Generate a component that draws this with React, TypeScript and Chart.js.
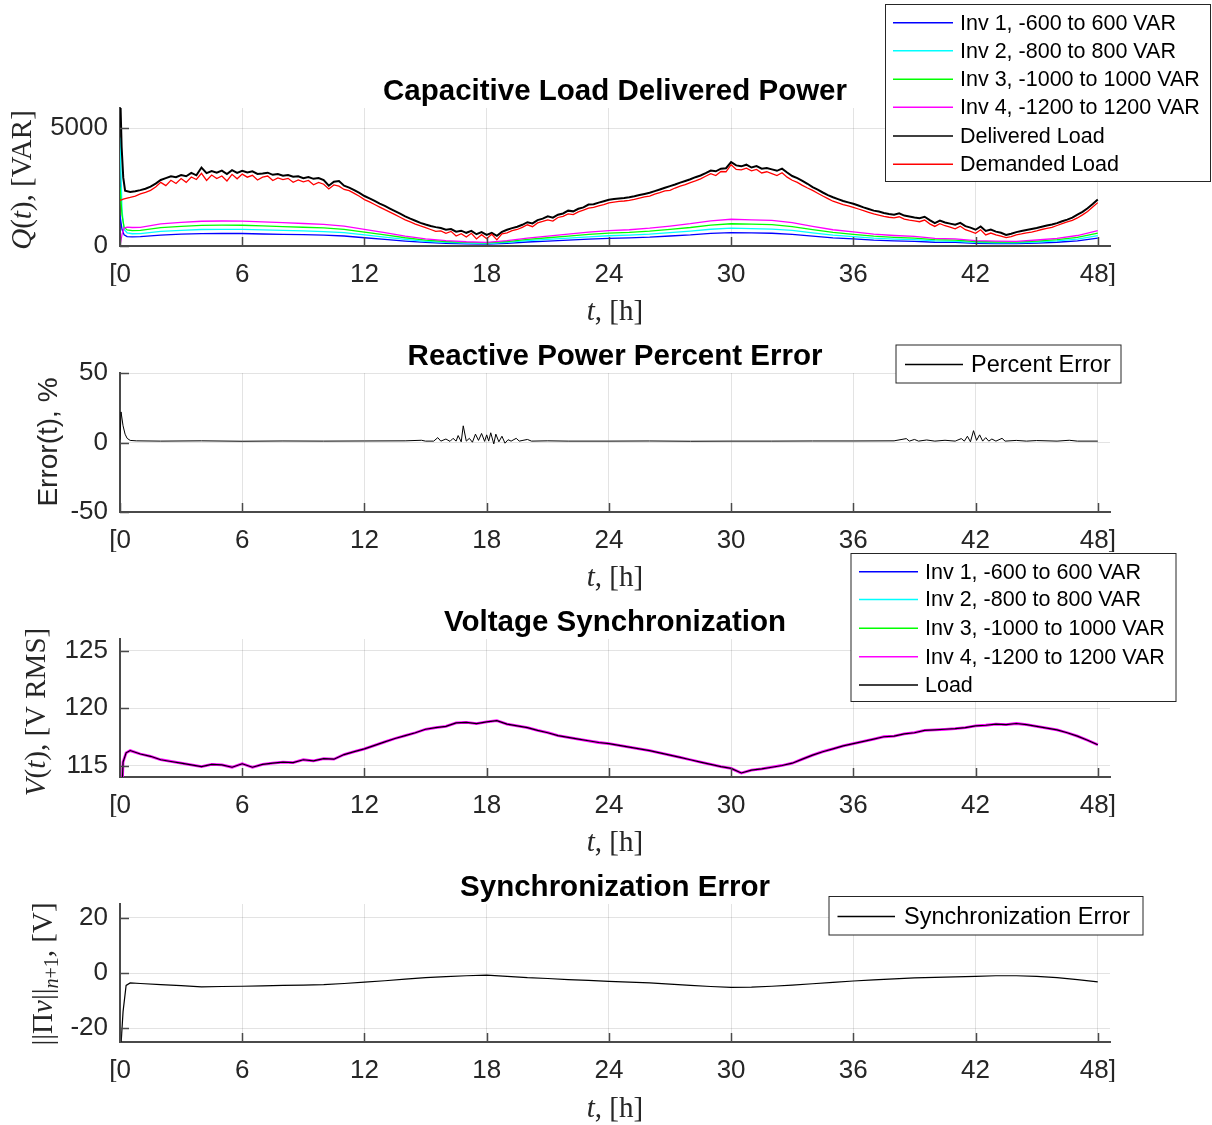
import React, { useEffect, useRef } from "react";
import { Chart, registerables } from "chart.js";
Chart.register(...registerables);

const W = 1212;
const H = 1125;
const PLOT_LEFT = 120;
const PLOT_RIGHT = 1110;
const X_MAX = 48.6;
const X_AXIS_H = 40;

const xTicks = [0, 6, 12, 18, 24, 30, 36, 42, 48];
const xTickLabel = (v: number) => (v === 0 ? "[0" : v === 48 ? "48]" : String(v));

// ---------------- Panel 1: Capacitive load delivered power ----------------
const loadStartT = [0, 0.08, 0.16, 0.25];
const loadGridStart = 0.5;
const loadGridStep = 0.25;

const deliveredLoad = [
  6800, 4200, 2900, 2350,
  2290, 2320,
  2370, 2430, 2520, 2650,
  2800, 2880, 2960, 2920,
  3010, 2960, 3100, 3000,
  3330, 3090, 3180, 3110,
  3200, 3050, 3220, 3100,
  3190, 3120, 3170, 3060,
  3080, 3110, 3020, 3050,
  2980, 3010, 2940, 2960,
  2880, 2930, 2850, 2880,
  2800, 2560, 2730, 2760,
  2560, 2480, 2370, 2250,
  2120, 2020, 1910, 1800,
  1700, 1590, 1480, 1370,
  1260, 1160, 1070, 980,
  910, 850, 800, 760,
  690, 720, 610, 650,
  560, 640, 500, 590,
  470, 560, 430, 600,
  690, 760, 820, 900,
  1010, 960, 1100, 1160,
  1260, 1200, 1330, 1380,
  1500, 1470, 1580, 1640,
  1760, 1770, 1840, 1900,
  1960, 1990, 2020, 2040,
  2070, 2110, 2160, 2210,
  2260, 2330, 2400, 2470,
  2540, 2610, 2690, 2760,
  2830, 2920, 2990, 3090,
  3200, 3170, 3280, 3300,
  3560, 3420, 3380, 3450,
  3330, 3390, 3280, 3310,
  3250, 3190, 3280, 3120,
  2970, 2880, 2760, 2640,
  2500, 2390, 2270, 2160,
  2070, 1990, 1910, 1850,
  1790, 1720, 1640, 1570,
  1500, 1460, 1400, 1360,
  1330, 1390, 1290, 1250,
  1210, 1180, 1240, 1100,
  970, 1080, 1000, 950,
  900, 980, 840, 780,
  690, 830, 640, 700,
  610, 560, 470, 520,
  590, 640, 680, 720,
  760, 820, 870, 910,
  970, 1050, 1120, 1200,
  1330, 1450, 1600, 1780,
  1970,
];

const demandedLoad = [
  1940, 1960, 1990, 2010,
  2060, 2120,
  2210, 2280, 2360, 2500,
  2700, 2560, 2790, 2650,
  2860, 2700, 2930, 2820,
  3080, 2780, 3010, 2860,
  2970, 2760, 3040, 2850,
  3050, 2920, 3000, 2800,
  2920, 2970, 2780, 2890,
  2820, 2870, 2700, 2800,
  2720, 2780, 2600, 2700,
  2620, 2420, 2590, 2540,
  2400, 2350, 2230, 2110,
  1970, 1870, 1760, 1650,
  1540, 1440, 1330, 1220,
  1110, 1020, 930, 850,
  780, 700, 620, 640,
  540, 620, 420, 520,
  380, 540, 300, 480,
  310, 500, 260, 520,
  560, 650, 700, 790,
  900, 820, 980, 1040,
  1110, 1060, 1210, 1260,
  1360, 1330, 1450, 1520,
  1610, 1640, 1700, 1760,
  1830, 1860, 1890, 1910,
  1940, 1980, 2030, 2080,
  2120, 2200, 2260, 2340,
  2360, 2460, 2540, 2600,
  2690, 2760, 2850, 2960,
  3070, 2990, 3160, 3150,
  3450, 3250, 3230, 3300,
  3190, 3250, 3100, 3150,
  3070, 2990, 3110, 2920,
  2790, 2700, 2570, 2460,
  2360, 2240, 2120, 2010,
  1900, 1830, 1760, 1700,
  1640, 1570, 1500, 1430,
  1360, 1310, 1260, 1220,
  1190, 1240, 1140, 1100,
  1070, 1030, 1100, 940,
  830, 950, 860, 800,
  730, 840, 690, 620,
  540, 690, 470, 550,
  470, 420, 360, 400,
  470, 510, 560, 590,
  640, 700, 750, 790,
  870, 950, 1020, 1090,
  1190, 1320, 1460, 1650,
  1840,
];

const invT = [0, 0.1, 0.2, 0.35, 0.6, 1, 2, 3, 4, 5, 6, 7, 8, 9, 10, 11, 12, 13, 14, 15, 16, 17, 18, 19, 20, 21, 22, 23, 24, 25, 26, 27, 28, 29, 30, 31, 32, 33, 34, 35, 36, 37, 38, 39, 40, 41, 42, 43, 44, 45, 46, 47, 48];

const inv1Q = [1300, 700, 480, 400, 390,
  395, 465, 500, 525, 530, 530, 510, 495, 480, 460,
  425, 350, 280, 210, 150, 115, 90, 80, 115, 170,
  210, 250, 295, 325, 345, 375, 425, 470, 535, 565,
  555, 540, 495, 415, 345, 300, 250, 220, 200, 160,
  150, 115, 100, 100, 125, 160, 220, 330];
const inv2Q = [4600, 1500, 700, 560, 520,
  525, 620, 665, 700, 705, 705, 680, 660, 640, 610,
  565, 470, 375, 280, 200, 155, 120, 105, 155, 225,
  280, 335, 390, 435, 460, 500, 565, 630, 710, 755,
  740, 720, 660, 555, 460, 400, 335, 295, 270, 215,
  200, 155, 135, 130, 170, 215, 295, 440];
const inv3Q = [2500, 1300, 800, 680, 650,
  660, 780, 835, 875, 885, 880, 850, 825, 795, 765,
  705, 585, 470, 350, 250, 190, 150, 130, 190, 280,
  350, 415, 490, 545, 575, 630, 705, 785, 890, 945,
  925, 905, 825, 695, 575, 495, 415, 370, 335, 270,
  250, 190, 170, 165, 210, 270, 370, 545];
const inv4Q = [0, 500, 760, 800, 785,
  790, 935, 1000, 1050, 1060, 1055, 1020, 990, 955, 915,
  845, 705, 565, 420, 300, 230, 180, 155, 230, 335,
  420, 500, 585, 655, 690, 755, 845, 945, 1065, 1135,
  1110, 1085, 990, 835, 690, 595, 500, 445, 405, 325,
  300, 230, 205, 195, 255, 325, 445, 655];

// ---------------- Panel 2: percent error ----------------
const errT = [0, 0.05, 0.15, 0.25, 0.35, 0.5, 0.8, 2, 4, 6, 8, 10, 12, 14, 14.8, 15, 15.4, 15.6, 15.75,
  16, 16.2, 16.35, 16.5, 16.6, 16.75, 16.85, 17, 17.15, 17.3, 17.45, 17.6, 17.75, 17.9,
  18, 18.1, 18.2, 18.35, 18.45, 18.6, 18.75, 18.9, 19.05, 19.2, 19.45, 19.6,
  20, 20.2, 21, 22, 24, 26, 28, 30, 32, 34, 36, 38, 38.6, 38.75, 39, 39.2, 39.6,
  40, 40.5, 41, 41.3, 41.45, 41.6, 41.75, 41.9, 42.05, 42.2, 42.35, 42.5, 42.65, 42.8,
  43, 43.3, 43.45, 44, 44.5, 45, 46, 46.6, 47, 48];
const percentError = [2, 22, 12, 6, 3, 1.5, 1.2, 1.0, 1.2, 0.9, 1.1, 1.0, 1.1, 1.2, 1.6, 1.0, 1.0, 3.5, 1.0,
  2.5, 0.8, 3, 1.0, 5, 0.5, 12, 1, 3, 0.2, 6, 1.5, 6.5, 0.8,
  5.5, 1.0, 7, -1, 6, 0.5, 4.5, -0.5, 2, 1.0, 3.0, 1.0,
  2.2, 1.0, 1.2, 1.0, 1.0, 1.1, 0.9, 1.0, 1.0, 1.1, 1.1, 1.2, 2.8, 1.0, 2.2, 1.0, 1.8,
  1.0, 1.6, 1.0, 2.8, 1.0, 4.5, 0.5, 8.5, 1.5, 5.5, 1.0, 3.5, 1.0, 2.5,
  1.0, 3.0, 1.0, 1.5, 1.0, 1.4, 1.0, 1.6, 1.0, 1.0];

// ---------------- Panel 3: voltage synchronization ----------------
const voltStartT = [0, 0.15, 0.3];
const voltGridStart = 0.5;
const voltGridStep = 0.5;
const busVoltage = [108, 115.3, 116.1,
  116.3, 116.0, 115.8, 115.5, 115.35, 115.2, 115.05, 114.9, 115.1, 115.05, 114.85,
  115.15, 114.85, 115.1, 115.2, 115.3, 115.25, 115.5, 115.4, 115.6, 115.55,
  115.95, 116.2, 116.45, 116.75, 117.05, 117.35, 117.6, 117.85, 118.15, 118.3,
  118.4, 118.7, 118.75, 118.65, 118.8, 118.9, 118.6, 118.45, 118.3, 118.05,
  117.85, 117.6, 117.45, 117.3, 117.15, 117.0, 116.9, 116.75, 116.6, 116.45,
  116.3, 116.1, 115.9, 115.7, 115.5, 115.3, 115.1, 114.9, 114.75, 114.35,
  114.6, 114.7, 114.85, 115.0, 115.2, 115.55, 115.9, 116.2, 116.45, 116.7,
  116.9, 117.1, 117.3, 117.5, 117.55, 117.75, 117.85, 118.05, 118.1, 118.15,
  118.2, 118.3, 118.45, 118.5, 118.6, 118.55, 118.65, 118.55, 118.4, 118.25,
  118.1, 117.85, 117.55, 117.2, 116.8];

// ---------------- Panel 4: synchronization error ----------------
const syncT = [0, 0.15, 0.3, 0.5, 1, 2, 3, 4, 5, 6, 7, 8, 9, 10, 11, 12, 13, 14, 15, 16, 17, 18, 19, 20, 21, 22, 23, 24, 25, 26, 27, 28, 29, 30, 31, 32, 33, 34, 35, 36, 37, 38, 39, 40, 41, 42, 43, 44, 45, 46, 47, 48];
const syncError = [-32, -14, -4.5, -3.6,
  -3.8, -4.2, -4.6, -5.0, -4.9, -4.8, -4.7, -4.5, -4.4, -4.2,
  -3.8, -3.3, -2.8, -2.2, -1.7, -1.3, -1.0, -0.8, -1.2, -1.7,
  -2.0, -2.4, -2.7, -3.0, -3.3, -3.6, -4.0, -4.5, -4.9, -5.2,
  -5.1, -4.8, -4.4, -3.9, -3.4, -2.9, -2.5, -2.1, -1.8, -1.6,
  -1.4, -1.2, -1.0, -1.0, -1.2, -1.7, -2.4, -3.2];

// ---------------- helpers ----------------
function timeAxis(start: number[], gridStart: number, step: number, total: number) {
  const out = [...start];
  let k = 0;
  while (out.length < total) {
    out.push(Math.round((gridStart + k * step) * 1000) / 1000);
    k++;
  }
  return out;
}
function pts(t: number[], v: number[]) {
  return v.map((y, i) => ({ x: t[i], y }));
}

const loadT = timeAxis(loadStartT, loadGridStart, loadGridStep, deliveredLoad.length);
const voltT = timeAxis(voltStartT, voltGridStart, voltGridStep, busVoltage.length);

const AXIS = "#4a4a4a";
const TEXT = "#262626";
const GRID = "rgba(0,0,0,0.11)";
const SANS = '"Liberation Sans", Arial, Helvetica, sans-serif';
const SERIF = '"Liberation Serif", "Times New Roman", serif';
const FS = 29;

type Seg = { t: string; f: string; dy?: number };
const up = (t: string, size = FS, dy = 0): Seg => ({ t, f: `${size}px ${SERIF}`, dy });
const it = (t: string, size = FS, dy = 0): Seg => ({ t, f: `italic ${size}px ${SERIF}`, dy });

function drawRich(ctx: CanvasRenderingContext2D, segs: Seg[], cx: number, y: number) {
  const widths = segs.map((s) => {
    ctx.font = s.f;
    return ctx.measureText(s.t).width;
  });
  const total = widths.reduce((a, b) => a + b, 0);
  let x = cx - total / 2;
  ctx.textAlign = "left";
  ctx.textBaseline = "alphabetic";
  segs.forEach((s, i) => {
    ctx.font = s.f;
    ctx.fillText(s.t, x, y + (s.dy || 0));
    x += widths[i];
  });
}

type Legend = { x: number; y: number; w: number; h: number; rows: number[]; l0: number; l1: number; tx: number; fs: number };
type Panel = {
  top: number;
  bottom: number;
  yMin: number;
  yMax: number;
  yTicks: number[];
  datasets: any[];
  title: string;
  titleY: number;
  xLabelY: number;
  yLabel: Seg[];
  yLabelX: number;
  yLabelCY: number;
  legend: Legend;
};

const xLabel = [it("t"), up(", [h]")];

function ds(label: string, t: number[], v: number[], color: string, width: number) {
  return { label, data: pts(t, v), borderColor: color, backgroundColor: color, borderWidth: width, pointRadius: 0, tension: 0, fill: false };
}

const panels: Panel[] = [
  {
    top: 108, bottom: 246, yMin: 0, yMax: 5855, yTicks: [0, 5000],
    datasets: [
      ds("Inv 1, -600 to 600 VAR", invT, inv1Q, "#0000ff", 1.3),
      ds("Inv 2, -800 to 800 VAR", invT, inv2Q, "#00ffff", 1.3),
      ds("Inv 3, -1000 to 1000 VAR", invT, inv3Q, "#00ff00", 1.3),
      ds("Inv 4, -1200 to 1200 VAR", invT, inv4Q, "#ff00ff", 1.3),
      ds("Delivered Load", loadT, deliveredLoad, "#000000", 2),
      ds("Demanded Load", loadT, demandedLoad, "#ff0000", 1.3),
    ],
    title: "Capacitive Load Delivered Power", titleY: 100, xLabelY: 320,
    yLabel: [it("Q"), up("("), it("t"), up("), [VAR]")], yLabelX: 31, yLabelCY: 180,
    legend: { x: 885.5, y: 4.5, w: 325, h: 177, rows: [22.7, 50.7, 79.3, 107.3, 136, 164.3], l0: 893, l1: 953, tx: 960, fs: 21.5 },
  },
  {
    top: 373, bottom: 512, yMin: -50, yMax: 50, yTicks: [-50, 0, 50],
    datasets: [ds("Percent Error", errT, percentError, "#000000", 1)],
    title: "Reactive Power Percent Error", titleY: 365, xLabelY: 585.5,
    yLabel: [{ t: "Error(t), %", f: `28px ${SANS}` }], yLabelX: 57, yLabelCY: 442,
    legend: { x: 896, y: 345, w: 225, h: 38, rows: [364.5], l0: 905, l1: 963, tx: 971, fs: 23.5 },
  },
  {
    top: 639, bottom: 777, yMin: 114, yMax: 126, yTicks: [115, 120, 125],
    datasets: [
      ds("Inv 1, -600 to 600 VAR", voltT, busVoltage, "#0000ff", 1.2),
      ds("Inv 2, -800 to 800 VAR", voltT, busVoltage, "#00ffff", 1.2),
      ds("Inv 3, -1000 to 1000 VAR", voltT, busVoltage, "#00ff00", 1.2),
      ds("Inv 4, -1200 to 1200 VAR", voltT, busVoltage, "#ff00ff", 2.8),
      ds("Load", voltT, busVoltage, "#000000", 1.2),
    ],
    title: "Voltage Synchronization", titleY: 630.5, xLabelY: 851,
    yLabel: [it("V"), up("("), it("t"), up("), [V RMS]")], yLabelX: 45, yLabelCY: 712,
    legend: { x: 851, y: 553.5, w: 325, h: 148, rows: [571.7, 599.5, 628.3, 656.7, 685], l0: 859, l1: 918, tx: 925, fs: 21.5 },
  },
  {
    top: 904, bottom: 1042, yMin: -25, yMax: 25, yTicks: [-20, 0, 20],
    datasets: [ds("Synchronization Error", syncT, syncError, "#000000", 1.2)],
    title: "Synchronization Error", titleY: 896, xLabelY: 1116.5,
    yLabel: [up("||\u03A0"), it("v"), up("||"), it("n", 20, 6), up("+1", 20, 6), up(", [V]")],
    yLabelX: 52, yLabelCY: 974,
    legend: { x: 829, y: 896.5, w: 314, h: 38.5, rows: [916.5], l0: 837.5, l1: 895, tx: 904, fs: 23.5 },
  },
];

function makePlugin(p: Panel) {
  return {
    id: "matlabDecor",
    afterDraw(chart: any) {
      const ctx: CanvasRenderingContext2D = chart.ctx;
      const { left, right, bottom } = chart.chartArea;
      const xs = chart.scales.x;
      const ys = chart.scales.y;
      ctx.save();
      // inward tick marks
      ctx.strokeStyle = AXIS;
      ctx.lineWidth = 1.5;
      xs.ticks.forEach((tk: any) => {
        const px = Math.round(xs.getPixelForValue(tk.value)) + 0.5;
        ctx.beginPath();
        ctx.moveTo(px, bottom);
        ctx.lineTo(px, bottom - 9);
        ctx.stroke();
      });
      ys.ticks.forEach((tk: any) => {
        const py = Math.round(ys.getPixelForValue(tk.value)) + 0.5;
        ctx.beginPath();
        ctx.moveTo(left, py);
        ctx.lineTo(left + 9, py);
        ctx.stroke();
      });
      // title
      ctx.fillStyle = "#000";
      ctx.font = `bold 29.5px ${SANS}`;
      ctx.textAlign = "center";
      ctx.textBaseline = "alphabetic";
      ctx.fillText(p.title, (left + right) / 2, p.titleY);
      // x label
      ctx.fillStyle = TEXT;
      drawRich(ctx, xLabel, (left + right) / 2, p.xLabelY);
      // y label (rotated)
      ctx.save();
      ctx.translate(p.yLabelX, p.yLabelCY);
      ctx.rotate(-Math.PI / 2);
      drawRich(ctx, p.yLabel, 0, 0);
      ctx.restore();
      // legend
      const L = p.legend;
      ctx.fillStyle = "#ffffff";
      ctx.fillRect(L.x, L.y, L.w, L.h);
      ctx.strokeStyle = "#262626";
      ctx.lineWidth = 1;
      ctx.strokeRect(L.x, L.y, L.w, L.h);
      ctx.font = `${L.fs}px ${SANS}`;
      ctx.textAlign = "left";
      ctx.textBaseline = "middle";
      chart.data.datasets.forEach((d: any, i: number) => {
        const ry = L.rows[i];
        ctx.strokeStyle = d.borderColor;
        ctx.lineWidth = 1.6;
        ctx.beginPath();
        ctx.moveTo(L.l0, ry);
        ctx.lineTo(L.l1, ry);
        ctx.stroke();
        ctx.fillStyle = "#000";
        ctx.fillText(d.label, L.tx, ry + 1);
      });
      ctx.restore();
    },
  };
}

function buildConfig(p: Panel): any {
  const n = p.datasets.length;
  return {
    type: "line",
    data: { datasets: p.datasets.map((d, i) => ({ ...d, order: n - i })) },
    options: {
      animation: false,
      responsive: false,
      maintainAspectRatio: false,
      events: [],
      layout: { padding: { left: 0, right: W - PLOT_RIGHT, top: p.top, bottom: H - p.bottom - X_AXIS_H } },
      plugins: { legend: { display: false }, tooltip: { enabled: false }, title: { display: false } },
      scales: {
        x: {
          type: "linear",
          min: 0,
          max: X_MAX,
          afterBuildTicks: (s: any) => {
            s.ticks = xTicks.map((v) => ({ value: v }));
          },
          afterFit: (s: any) => {
            s.height = X_AXIS_H;
          },
          ticks: { callback: (v: number) => xTickLabel(v), font: { family: SANS, size: 26 }, color: TEXT, padding: 13, maxRotation: 0, autoSkip: false },
          grid: { color: GRID, drawTicks: false, lineWidth: 1 },
          border: { display: true, color: AXIS, width: 2 },
        },
        y: {
          type: "linear",
          min: p.yMin,
          max: p.yMax,
          afterBuildTicks: (s: any) => {
            s.ticks = p.yTicks.map((v) => ({ value: v }));
          },
          afterFit: (s: any) => {
            s.width = PLOT_LEFT;
          },
          ticks: { callback: (v: number) => String(v), font: { family: SANS, size: 26 }, color: TEXT, padding: 12, autoSkip: false },
          grid: { color: GRID, drawTicks: false, lineWidth: 1 },
          border: { display: true, color: AXIS, width: 2 },
        },
      },
    },
    plugins: [makePlugin(p)],
  };
}

function PanelChart({ p }: { p: Panel }) {
  const ref = useRef<HTMLCanvasElement>(null);
  useEffect(() => {
    if (!ref.current) return;
    const chart = new Chart(ref.current, buildConfig(p));
    return () => chart.destroy();
  }, [p]);
  return <canvas ref={ref} width={W} height={H} style={{ position: "absolute", left: 0, top: 0 }} />;
}

export default function App() {
  return (
    <div style={{ position: "absolute", left: 0, top: 0, width: W, height: H, background: "#ffffff", overflow: "hidden" }}>
      {panels.map((p, i) => (
        <PanelChart key={i} p={p} />
      ))}
    </div>
  );
}
